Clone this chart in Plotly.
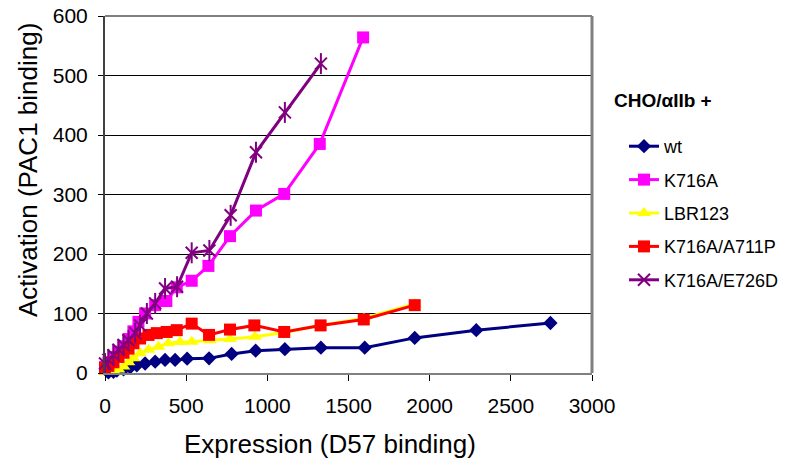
import plotly.graph_objects as go

# ---- data ----
wt_x = [21, 52, 73, 114, 155, 196, 247, 309, 370, 432, 506, 641, 780, 928, 1108, 1330, 1600, 1908, 2287, 2744]
wt_y = [1, 2, 4, 6, 9.6, 13, 16, 19, 22, 22, 24, 24.6, 32, 37.5, 40, 42.5, 42.5, 59, 72, 84]

k716a_x = [0, 21, 52, 83, 114, 145, 175, 206, 247, 309, 378, 442, 534, 637, 770, 930, 1104, 1323, 1590]
k716a_y = [10, 18, 27, 36, 45, 57, 70, 86, 100, 114, 121, 144, 155, 180, 230, 273, 301, 385, 564]

lbr_x = [0, 21, 52, 83, 114, 145, 175, 216, 268, 329, 390, 462, 534, 647, 770, 924, 1104, 1328, 1594, 1908]
lbr_y = [2, 3, 4, 6, 11, 18, 25, 33, 39, 44, 50, 52, 52.5, 55, 57, 61, 68, 80, 92, 116]

a711p_x = [0, 21, 52, 83, 114, 145, 175, 216, 268, 319, 380, 442, 534, 641, 770, 920, 1104, 1328, 1594, 1908]
a711p_y = [8, 12, 18, 27, 34, 41, 50, 58, 64, 67, 69, 72, 83, 64, 73, 80, 69, 80, 90, 114]

e726d_x = [0, 21, 52, 83, 114, 145, 186, 216, 258, 309, 370, 444, 534, 643, 774, 930, 1108, 1330]
e726d_y = [16, 22, 30, 39, 47, 55, 67, 80, 100, 117, 142, 145, 202, 206, 265, 371, 438, 520]

series_names = ["wt", "K716A", "LBR123", "K716A/A711P", "K716A/E726D"]
x_ticks = [0, 500, 1000, 1500, 2000, 2500, 3000]
y_ticks = [0, 100, 200, 300, 400, 500, 600]
legend_title = "CHO/αIIb +"
x_title = "Expression (D57 binding)"
y_title = "Activation (PAC1 binding)"

FONT = "Liberation Sans, Arial, sans-serif"

# body margin is removed by the post script, so page px == figure px
OFF = 0
ML, MR, MT, MB = 105, 208, 16, 88
W, H = 800, 461
PW, PH = W - ML - MR, H - MT - MB


def px(page_x):
    return (page_x - OFF - ML) / PW


def py(page_y):
    return (H - MB - (page_y - OFF)) / PH


fig = go.Figure()


def add(xs, ys, name, color, symbol, size, lw=3):
    fig.add_trace(go.Scatter(
        x=xs, y=ys, name=name, mode="lines+markers",
        line=dict(color=color, width=lw),
        marker=dict(color=color, symbol=symbol, size=size,
                    line=dict(color=color, width=2 if "open" in symbol else 0)),
        cliponaxis=False, legendgroup=name,
    ))


add(wt_x, wt_y, series_names[0], "#000080", "diamond", 11)
add(k716a_x, k716a_y, series_names[1], "#FF00FF", "square", 12)
add(lbr_x, lbr_y, series_names[2], "#FFFF00", "triangle-up", 12)
add(a711p_x, a711p_y, series_names[3], "#FF0000", "square", 12)
add(e726d_x, e726d_y, series_names[4], "#800080", "x-thin-open", 12)
# vertical stroke of the asterisk marker
fig.add_trace(go.Scatter(
    x=e726d_x, y=e726d_y, mode="markers", showlegend=False,
    legendgroup=series_names[4],
    marker=dict(color="#800080", symbol="line-ns-open", size=15,
                line=dict(color="#800080", width=2)),
    cliponaxis=False, hoverinfo="skip",
))

# plot-area border (right and top, grey)
fig.add_shape(type="line", x0=1, x1=1, y0=0, y1=1, xref="paper", yref="paper",
              line=dict(color="#808080", width=3), layer="above")
fig.add_shape(type="line", x0=0, x1=1, y0=1, y1=1, xref="paper", yref="paper",
              line=dict(color="#808080", width=2), layer="above")

fig.add_annotation(text=x_title, xref="paper", yref="paper", x=px(329.5), y=py(444),
                   xanchor="center", yanchor="middle", showarrow=False,
                   font=dict(size=26, family=FONT, color="black"))
fig.add_annotation(text=y_title, xref="paper", yref="paper", x=px(28), y=py(170),
                   xanchor="center", yanchor="middle", showarrow=False, textangle=-90,
                   font=dict(size=26, family=FONT, color="black"))
fig.add_annotation(text="<b>" + legend_title + "</b>", xref="paper", yref="paper",
                   x=px(612), y=py(100), xanchor="left", yanchor="middle", showarrow=False,
                   font=dict(size=19, family=FONT, color="black"))

fig.update_layout(
    width=W, height=H,
    margin=dict(l=ML, r=MR, t=MT, b=MB, autoexpand=False),
    paper_bgcolor="white", plot_bgcolor="white",
    font=dict(family=FONT, color="black", size=21),
    legend=dict(
        font=dict(size=18, family=FONT),
        x=px(624), xanchor="left", y=py(128), yanchor="top",
        traceorder="grouped", tracegroupgap=7,
        bgcolor="rgba(0,0,0,0)",
    ),
    xaxis=dict(
        range=[0, 3000], tickvals=x_ticks, ticktext=[str(v) for v in x_ticks],
        showgrid=False, zeroline=False,
        showline=True, linecolor="#808080", linewidth=2,
        ticks="outside", ticklen=6, tickcolor="black", tickwidth=1,
        tickfont=dict(size=21), ticklabelstandoff=7,
        ticklabeloverflow="allow",
    ),
    yaxis=dict(
        range=[0, 600], tickvals=y_ticks, ticktext=[str(v) for v in y_ticks],
        showgrid=True, gridcolor="black", gridwidth=1, zeroline=False,
        showline=True, linecolor="#404040", linewidth=2,
        ticks="outside", ticklen=5, tickcolor="black", tickwidth=1,
        tickfont=dict(size=21), ticklabelstandoff=6,
        ticklabeloverflow="allow",
    ),
)

fig.write_html("out.html",
               config={"displayModeBar": False},
               post_script="document.body.style.margin='0';document.body.style.overflow='hidden';")
